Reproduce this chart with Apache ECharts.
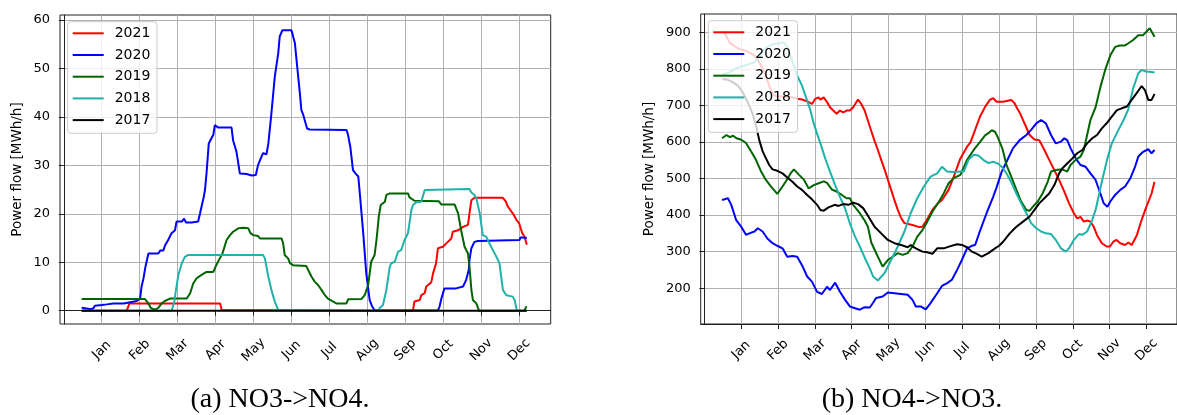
<!DOCTYPE html>
<html><head><meta charset="utf-8">
<script src="https://cdn.jsdelivr.net/npm/echarts@6/dist/echarts.min.js"></script>
<style>html,body{margin:0;padding:0;background:#fff;}#c{width:1177px;height:415px;}</style>
</head><body><div id="c"></div>
<script>
const MONTHS = ['Jan','Feb','Mar','Apr','May','Jun','Jul','Aug','Sep','Oct','Nov','Dec'];
const MONTH_TICKS = [1,2,3,4,5,6,7,8,9,10,11,12];
const YEARS = ['2021','2020','2019','2018','2017'];
const COLORS = ['#ff0000','#0000ff','#006400','#20b2aa','#000000'];
const LEFT_Y_TICKS = [0,10,20,30,40,50,60];
const RIGHT_Y_TICKS = [200,300,400,500,600,700,800,900];
const Y_LABEL = 'Power flow [MWh/h]';
const CAPTION_A = '(a) NO3->NO4.';
const CAPTION_B = '(b) NO4->NO3.';

// (a) NO3->NO4 : [month position, MWh/h]
const left2021 = [[0.47,0],[1.66,0],[1.73,1.5],[4.12,1.5],[4.16,0.12],[4.95,0.1],[5.0,0],[9.2,0],[9.24,1.9],[9.38,2.2],[9.42,3.2],[9.51,3.6],[9.55,5.0],[9.68,5.8],[9.73,7.7],[9.81,9.8],[9.86,12.9],[9.99,13.2],[10.08,13.9],[10.21,14.9],[10.25,16.3],[10.39,16.6],[10.52,17.3],[10.65,17.7],[10.69,20.1],[10.74,22.8],[10.82,23.3],[11.57,23.3],[11.65,22.5],[11.70,21.5],[11.83,20.1],[11.93,18.7],[12.0,18.0],[12.08,16.0],[12.14,15.3],[12.2,13.6]];
const left2020 = [[0.47,0.6],[0.6,0.45],[0.7,0.3],[0.78,0.5],[0.82,1.0],[1.0,1.17],[1.13,1.3],[1.31,1.5],[1.58,1.5],[1.61,1.86],[1.92,2.0],[2.01,2.5],[2.05,5.0],[2.10,6.7],[2.15,9.0],[2.23,11.8],[2.49,11.8],[2.54,12.4],[2.62,12.4],[2.67,13.5],[2.75,14.6],[2.84,16.0],[2.93,16.6],[2.97,18.4],[3.11,18.4],[3.17,19.0],[3.22,18.2],[3.37,18.2],[3.41,18.6],[3.54,18.4],[3.59,20.1],[3.68,23.2],[3.72,24.9],[3.76,28.3],[3.82,34.5],[3.89,35.6],[3.94,36.3],[3.98,38.3],[4.03,38.7],[4.07,37.8],[4.42,37.8],[4.46,35.2],[4.51,34.8],[4.55,32.8],[4.64,28.3],[4.82,28.2],[4.95,27.9],[4.99,27.7],[5.06,28.0],[5.12,30.1],[5.21,31.8],[5.25,32.5],[5.34,32.3],[5.39,34.5],[5.47,40.7],[5.56,48.3],[5.65,53.1],[5.69,56.6],[5.76,57.9],[6.0,57.9],[6.09,55.2],[6.15,50.4],[6.22,44.9],[6.26,41.4],[6.31,40.4],[6.35,40.0],[6.41,37.6],[6.48,37.4],[7.45,37.3],[7.49,36.3],[7.55,33.8],[7.62,29.0],[7.69,28.3],[7.76,27.7],[7.80,24.2],[7.89,16.0],[7.97,7.7],[8.06,2.2],[8.13,0.8],[8.19,0.1],[8.24,0],[9.6,0.05],[9.86,0.1],[9.9,0.8],[9.95,2.5],[10.03,4.6],[10.34,4.6],[10.52,5.0],[10.60,6.3],[10.67,8.4],[10.69,10.5],[10.74,12.9],[10.82,14.2],[10.91,14.4],[12.01,14.6],[12.03,15.1],[12.09,15.1],[12.2,15.0]];
const left2019 = [[0.47,2.4],[2.0,2.4],[2.14,2.4],[2.18,2.0],[2.23,1.5],[2.29,0.6],[2.36,0.3],[2.43,0.3],[2.49,0.6],[2.58,1.5],[2.66,2.0],[2.71,2.2],[2.80,2.5],[3.24,2.5],[3.33,3.6],[3.41,5.6],[3.50,6.7],[3.63,7.4],[3.76,8.0],[3.94,8.0],[4.03,9.6],[4.11,10.8],[4.18,11.8],[4.29,14.6],[4.38,15.6],[4.46,16.3],[4.60,17.0],[4.73,17.1],[4.86,17.0],[4.92,16.0],[4.99,15.6],[5.12,15.4],[5.17,14.9],[5.74,14.9],[5.78,13.9],[5.82,11.5],[5.91,10.8],[5.96,9.8],[6.04,9.4],[6.09,9.2],[6.39,9.2],[6.44,8.4],[6.53,7.0],[6.61,6.0],[6.70,5.3],[6.79,4.3],[6.88,3.2],[6.96,2.5],[7.10,1.86],[7.18,1.5],[7.45,1.5],[7.49,2.34],[7.84,2.4],[7.93,3.2],[8.02,5.3],[8.10,10.1],[8.19,11.5],[8.24,14.6],[8.30,19.4],[8.35,21.8],[8.46,22.5],[8.50,23.9],[8.59,24.2],[9.07,24.2],[9.11,23.4],[9.24,22.7],[9.88,22.6],[9.95,21.9],[10.30,21.9],[10.39,20.1],[10.47,16.6],[10.56,13.2],[10.65,11.8],[10.69,9.1],[10.74,4.3],[10.78,2.2],[10.87,1.5],[10.94,0],[12.14,0],[12.18,0.8],[12.2,0.7]];
const left2018 = [[0.47,0],[2.84,0],[2.91,1.8],[2.97,5.0],[3.02,7.4],[3.11,9.8],[3.19,11.1],[3.28,11.5],[5.25,11.5],[5.30,10.8],[5.39,7.0],[5.47,4.3],[5.56,1.86],[5.65,0.14],[5.69,0],[8.28,0],[8.32,0.5],[8.41,1.17],[8.50,4.3],[8.59,9.1],[8.63,9.8],[8.72,10.1],[8.81,12.2],[8.89,12.5],[8.98,14.6],[9.07,16.0],[9.16,20.8],[9.20,21.8],[9.29,22.4],[9.42,22.5],[9.46,22.8],[9.51,24.9],[9.55,25.1],[10.69,25.1],[10.74,24.4],[10.82,23.9],[10.87,23.2],[10.96,20.1],[11.04,15.6],[11.13,15.3],[11.26,13.2],[11.40,11.1],[11.48,9.8],[11.57,4.3],[11.66,3.2],[11.83,2.9],[11.88,2.2],[11.94,0],[12.2,0]];
const left2017 = [[0.47,0],[12.2,0]];

// (b) NO4->NO3 : [month position, MWh/h]
const right2021 = [[0.49,902],[0.55,898],[0.69,871],[0.82,862],[0.95,854],[1.09,850],[1.22,845],[1.36,836],[1.49,818],[1.63,791],[1.76,754],[1.85,731],[1.98,724],[2.16,724],[2.39,722],[2.52,718],[2.65,716],[2.79,711],[2.92,704],[3.01,718],[3.10,722],[3.15,716],[3.24,722],[3.33,709],[3.41,695],[3.50,686],[3.59,677],[3.68,686],[3.77,681],[3.86,686],[3.95,686],[4.04,695],[4.17,716],[4.26,704],[4.35,686],[4.44,658],[4.53,630],[4.62,603],[4.71,578],[4.80,551],[4.89,525],[4.98,497],[5.07,469],[5.16,441],[5.25,414],[5.34,392],[5.43,378],[5.65,373],[5.83,367],[5.92,368],[6.01,382],[6.19,414],[6.32,430],[6.45,441],[6.63,469],[6.77,505],[6.95,555],[7.13,587],[7.22,598],[7.35,633],[7.48,669],[7.62,696],[7.75,715],[7.84,720],[7.93,710],[8.11,710],[8.33,715],[8.42,706],[8.50,690],[8.56,680],[8.69,651],[8.83,619],[8.96,607],[9.09,605],[9.23,578],[9.36,551],[9.50,523],[9.63,496],[9.77,464],[9.90,432],[10.03,405],[10.12,391],[10.21,395],[10.30,382],[10.39,385],[10.48,382],[10.57,368],[10.66,345],[10.79,323],[10.92,314],[11.01,314],[11.10,327],[11.19,332],[11.29,323],[11.42,318],[11.51,325],[11.60,318],[11.74,345],[11.87,387],[12.0,423],[12.14,459],[12.22,491]];
const right2020 = [[0.48,441],[0.64,446],[0.73,428],[0.86,387],[1.0,368],[1.13,346],[1.27,352],[1.36,355],[1.45,364],[1.58,355],[1.71,336],[1.85,323],[1.98,316],[2.12,309],[2.25,286],[2.39,288],[2.52,286],[2.65,263],[2.79,232],[2.92,218],[3.06,190],[3.19,184],[3.33,204],[3.41,195],[3.55,215],[3.68,190],[3.82,168],[3.95,150],[4.09,145],[4.22,141],[4.35,148],[4.49,147],[4.58,160],[4.66,173],[4.84,177],[4.98,188],[5.16,186],[5.34,184],[5.52,182],[5.65,168],[5.74,150],[5.87,150],[6.01,142],[6.14,159],[6.32,186],[6.45,206],[6.59,214],[6.72,223],[6.86,250],[6.99,277],[7.13,309],[7.26,316],[7.35,318],[7.49,359],[7.66,405],[7.84,450],[7.93,475],[8.07,518],[8.20,545],[8.38,583],[8.56,605],[8.74,619],[8.87,633],[9.01,651],[9.14,660],[9.27,651],[9.41,619],[9.54,596],[9.68,601],[9.77,610],[9.85,605],[9.94,583],[10.08,555],[10.21,537],[10.35,532],[10.48,514],[10.62,496],[10.75,459],[10.84,432],[10.94,423],[11.02,437],[11.15,455],[11.29,469],[11.42,478],[11.56,500],[11.69,532],[11.78,560],[11.91,573],[12.05,580],[12.14,569],[12.22,578]];
const right2019 = [[0.48,610],[0.60,619],[0.69,613],[0.78,617],[0.87,610],[1.0,606],[1.13,597],[1.27,574],[1.40,551],[1.54,519],[1.67,496],[1.81,478],[1.98,458],[2.12,478],[2.21,492],[2.34,514],[2.43,525],[2.57,510],[2.70,497],[2.83,473],[2.97,482],[3.10,487],[3.24,492],[3.33,488],[3.46,470],[3.59,464],[3.73,455],[3.86,446],[3.95,446],[4.04,428],[4.22,405],[4.35,385],[4.44,368],[4.53,325],[4.71,286],[4.84,259],[4.98,277],[5.11,286],[5.25,296],[5.38,291],[5.52,296],[5.65,314],[5.78,341],[5.92,359],[6.05,382],[6.19,409],[6.37,437],[6.50,460],[6.63,487],[6.77,501],[6.95,510],[7.13,551],[7.31,578],[7.49,601],[7.62,618],[7.71,624],[7.80,632],[7.89,628],[7.96,614],[8.09,582],[8.20,537],[8.33,505],[8.47,469],[8.60,437],[8.74,414],[8.83,412],[8.92,423],[9.05,437],[9.18,459],[9.32,491],[9.41,519],[9.54,523],[9.72,525],[9.85,519],[9.94,537],[10.08,551],[10.21,560],[10.30,578],[10.39,619],[10.48,660],[10.62,695],[10.75,750],[10.88,797],[11.02,837],[11.15,860],[11.28,864],[11.42,864],[11.51,870],[11.64,879],[11.78,892],[11.91,892],[12.0,902],[12.09,911],[12.14,902],[12.22,888]];
const right2018 = [[0.49,783],[0.55,786],[0.69,791],[0.82,800],[0.95,805],[1.09,809],[1.22,813],[1.36,818],[1.49,832],[1.63,854],[1.76,863],[1.89,868],[2.03,870],[2.16,872],[2.25,859],[2.39,822],[2.52,781],[2.65,754],[2.79,713],[2.88,686],[2.97,650],[3.06,622],[3.15,596],[3.28,555],[3.41,519],[3.55,482],[3.68,450],[3.82,418],[3.95,377],[4.09,341],[4.22,314],[4.35,284],[4.49,254],[4.58,232],[4.71,221],[4.89,241],[5.07,277],[5.25,314],[5.43,355],[5.60,405],[5.78,446],[5.96,478],[6.14,505],[6.32,514],[6.45,532],[6.59,519],[6.77,518],[6.95,519],[7.04,519],[7.17,551],[7.31,565],[7.44,563],[7.57,551],[7.71,542],[7.84,546],[7.98,540],[8.09,530],[8.20,514],[8.33,490],[8.47,459],[8.60,432],[8.74,405],[8.87,378],[9.01,364],[9.14,355],[9.27,350],[9.41,348],[9.54,332],[9.68,309],[9.81,300],[9.90,309],[10.03,332],[10.17,348],[10.26,346],[10.39,355],[10.53,387],[10.62,414],[10.71,455],[10.80,496],[10.93,551],[11.06,596],[11.24,633],[11.38,660],[11.51,690],[11.64,747],[11.78,788],[11.87,797],[12.0,792],[12.09,792],[12.22,790]];
const right2017 = [[0.49,772],[0.64,770],[0.78,763],[0.91,754],[1.04,736],[1.18,708],[1.31,677],[1.40,645],[1.49,605],[1.58,575],[1.63,564],[1.76,537],[1.85,525],[1.98,521],[2.12,514],[2.25,503],[2.39,491],[2.52,478],[2.65,469],[2.79,455],[2.92,443],[3.06,428],[3.15,414],[3.24,412],[3.37,421],[3.54,428],[3.64,425],[3.77,430],[3.91,428],[4.04,434],[4.17,430],[4.31,419],[4.44,398],[4.62,368],[4.80,350],[4.98,332],[5.16,323],[5.34,318],[5.52,312],[5.60,318],[5.74,309],[5.92,300],[6.05,298],[6.19,294],[6.32,309],[6.50,309],[6.68,315],[6.86,320],[7.0,318],[7.13,312],[7.26,300],[7.40,294],[7.53,286],[7.71,296],[7.89,309],[8.0,316],[8.11,327],[8.29,350],[8.47,368],[8.65,382],[8.83,396],[8.96,414],[9.09,432],[9.23,446],[9.36,459],[9.50,482],[9.63,514],[9.72,528],[9.85,541],[9.99,555],[10.12,569],[10.26,578],[10.39,596],[10.53,610],[10.66,619],[10.79,637],[10.92,651],[11.06,669],[11.20,687],[11.33,692],[11.47,697],[11.60,715],[11.73,733],[11.87,753],[11.96,742],[12.05,715],[12.14,715],[12.22,731]];

const LEFT_DATA = [left2021, left2020, left2019, left2018, left2017];
const RIGHT_DATA = [right2021, right2020, right2019, right2018, right2017];

const FONT = 'DejaVu Sans';
const INK = '#000';
const SPINE = '#222';
const GRIDC = '#b0b0b0';

function xAxisCfg(gi) {
  return {
    type: 'value', gridIndex: gi, min: -0.1, max: 12.83,
    axisLine: {show: true, lineStyle: {color: SPINE, width: 1}},
    axisTick: {show: true, length: 5, customValues: MONTH_TICKS, lineStyle: {color: SPINE, width: 1}},
    axisLabel: {customValues: MONTH_TICKS, formatter: v => MONTHS[Math.round(v) - 1] || '', rotate: 45,
      align: 'center', verticalAlign: 'middle', margin: 26, fontFamily: FONT, fontSize: 13, color: INK},
    splitLine: {show: true, lineStyle: {color: GRIDC, width: 1}}
  };
}
function yAxisCfg(gi, min, max, ticks, gap) {
  return {
    type: 'value', gridIndex: gi, min: min, max: max,
    name: Y_LABEL, nameLocation: 'middle', nameGap: gap,
    nameTextStyle: {fontFamily: FONT, fontSize: 13.5, color: INK},
    axisLine: {show: true, lineStyle: {color: SPINE, width: 1}},
    axisTick: {show: true, length: 5, customValues: ticks, lineStyle: {color: SPINE, width: 1}},
    axisLabel: {customValues: ticks, margin: 10, fontFamily: FONT, fontSize: 13, color: INK},
    splitLine: {show: true, lineStyle: {color: GRIDC, width: 1}}
  };
}
function legendCfg(left, top) {
  return {
    data: YEARS, orient: 'vertical', left: left, top: top, selectedMode: false,
    icon: 'rect', itemWidth: 31, itemHeight: 2, itemGap: 5.7,
    padding: [3.6, 6.6, 5.2, 5],
    backgroundColor: 'rgba(255,255,255,0.8)', borderColor: '#cccccc', borderWidth: 1, borderRadius: 3,
    textStyle: {fontFamily: FONT, fontSize: 14, color: INK, lineHeight: 16, padding: [0, 0, 0, 6]}
  };
}
const series = [];
[LEFT_DATA, RIGHT_DATA].forEach((set, gi) => {
  set.forEach((d, i) => {
    series.push({
      type: 'line', name: YEARS[i], xAxisIndex: gi, yAxisIndex: gi, data: d,
      showSymbol: false, symbol: 'none', color: COLORS[i],
      itemStyle: {color: COLORS[i]}, lineStyle: {color: COLORS[i], width: 2},
      emphasis: {disabled: true}, clip: true
    });
  });
});

const chart = echarts.init(document.getElementById('c'), null, {renderer: 'canvas'});
chart.setOption({
  animation: false,
  backgroundColor: '#fff',
  grid: [
    {left: 60, top: 15, width: 490.7, height: 309, show: true, borderColor: SPINE, borderWidth: 1, backgroundColor: 'transparent'},
    {left: 700.7, top: 14, width: 481.9, height: 310, show: true, borderColor: SPINE, borderWidth: 1, backgroundColor: 'transparent'}
  ],
  xAxis: [xAxisCfg(0), xAxisCfg(1)],
  yAxis: [yAxisCfg(0, -2.75, 61.04, LEFT_Y_TICKS, 36), yAxisCfg(1, 102, 950, RIGHT_Y_TICKS, 44)],
  legend: [legendCfg(67.7, 21.7), legendCfg(708.3, 20.7)],
  series: series,
  graphic: [
    {type: 'text', x: 280, y: 400, style: {text: CAPTION_A, x: 0, y: 0, align: 'center', verticalAlign: 'middle', font: '28px "Liberation Serif"', fill: '#000'}},
    {type: 'text', x: 912, y: 400, style: {text: CAPTION_B, x: 0, y: 0, align: 'center', verticalAlign: 'middle', font: '28px "Liberation Serif"', fill: '#000'}}
  ]
});
</script></body></html>
